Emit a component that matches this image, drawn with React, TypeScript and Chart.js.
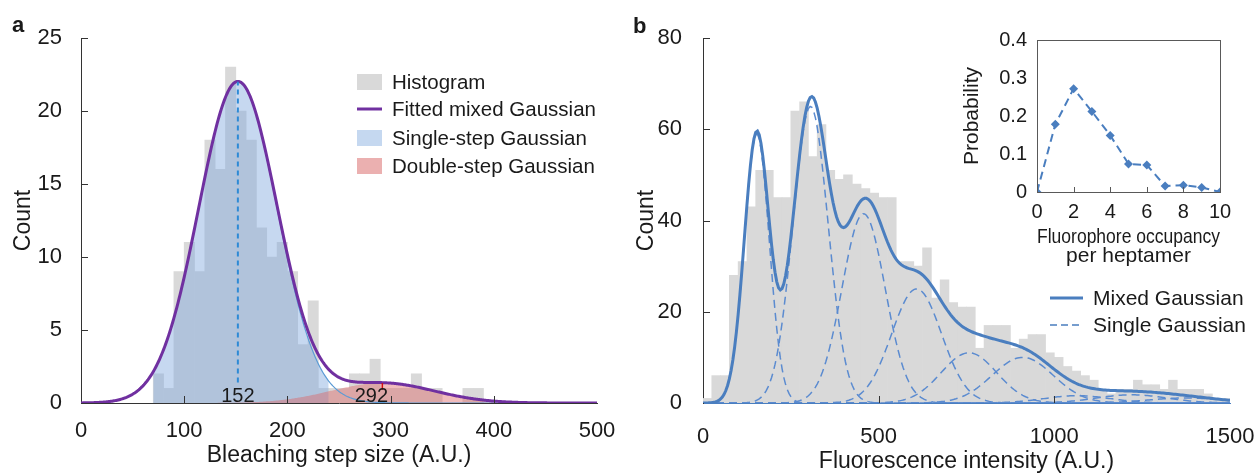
import React, { useEffect, useRef } from "react";
import { Chart, registerables } from "chart.js";
Chart.register(...registerables);

const FONT = "'Liberation Sans', Arial, Helvetica, sans-serif";
const TEXT = "#1a1a1a";
const AXIS = "#333333";

// ---------- Panel a: bleaching step size ----------
const stepBinWidth = 10;
const stepBinStarts = [70, 80, 90, 100, 110, 120, 130, 140, 150, 160, 170, 180, 190, 200, 210, 220, 230, 240, 250, 260, 270, 280, 290, 300, 310, 320, 330, 340, 350, 360, 370, 380];
const stepCounts = [2, 1, 9, 11, 9, 18, 16, 23, 20, 18, 12, 10, 11, 9, 4, 7, 1, 1, 1, 2, 2, 3, 1, 1, 1, 2, 1, 1, 0, 0, 1, 1];
const stepXTicks = [0, 100, 200, 300, 400, 500];
const countTicksA = [0, 5, 10, 15, 20, 25];
// fitted Gaussian parameters
const singleStep = { amp: 22, mean: 152, sigma: 38, from: 70, to: 240 };
const doubleStep = { amp: 1.37, mean: 292, sigma: 50, from: 100, to: 400 };
const legendA = ["Histogram", "Fitted mixed Gaussian", "Single-step Gaussian", "Double-step Gaussian"];

// ---------- Panel b: fluorescence intensity ----------
const intensityBinWidth = 25;
const intensityBinStarts = [0, 25, 50, 75, 100, 125, 150, 175, 200, 225, 250, 275, 300, 325, 350, 375, 400, 425, 450, 475, 500, 525, 550, 575, 600, 625, 650, 675, 700, 725, 750, 775, 800, 825, 850, 875, 900, 925, 950, 975, 1000, 1025, 1050, 1075, 1100, 1125, 1150, 1175, 1200, 1225, 1250, 1275, 1300, 1325, 1350, 1375, 1400, 1425, 1450, 1475];
const intensityCounts = [1, 6, 6, 28, 31, 43, 51, 51, 45, 45, 64, 66, 54, 61, 51, 49, 50, 48, 47, 46, 45, 45, 31, 31, 30, 34, 23, 27, 22, 21, 21, 12, 17, 17, 17, 12, 14, 15, 15, 11, 10, 8, 7, 6, 5, 3, 2, 3, 3, 5, 4, 4, 3, 5, 3, 3, 3, 2, 1, 1];
const intensityXTicks = [0, 500, 1000, 1500];
const countTicksB = [0, 20, 40, 60, 80];
const componentMeans = [153, 306, 457, 608, 757, 910, 1065, 1220, 1375];
const componentAmps = [59, 65, 41.5, 25, 11, 10, 1.6, 1.8, 1.1];
const componentSigmas = [35.5, 50, 61.5, 71, 79, 87, 94, 100, 106];
const legendB = ["Mixed Gaussian", "Single Gaussian"];

// ---------- Inset ----------
const occupancy = [0, 1, 2, 3, 4, 5, 6, 7, 8, 9, 10];
const occupancyProb = [0, 0.178, 0.272, 0.212, 0.149, 0.074, 0.071, 0.016, 0.018, 0.012, 0];
const occTicks = [0, 2, 4, 6, 8, 10];
const probTicks = [0, 0.1, 0.2, 0.3, 0.4];

const BLUE = "#4a7ebf";

function gauss(x: number, a: number, m: number, s: number) {
  return a * Math.exp(-((x - m) * (x - m)) / (2 * s * s));
}
function curve(from: number, to: number, step: number, f: (x: number) => number) {
  const pts: { x: number; y: number }[] = [];
  for (let x = from; x <= to + 1e-9; x += step) pts.push({ x, y: f(x) });
  return pts;
}

function inwardTicks(chart: any, xs: number[], ys: number[], len: number, color: string) {
  const { ctx, chartArea: ca, scales } = chart;
  ctx.save();
  ctx.strokeStyle = color;
  ctx.lineWidth = 1;
  xs.forEach((v) => {
    const px = Math.round(scales.x.getPixelForValue(v)) + 0.5;
    ctx.beginPath();
    ctx.moveTo(px, ca.bottom);
    ctx.lineTo(px, ca.bottom - len);
    ctx.stroke();
  });
  ys.forEach((v) => {
    const py = Math.round(scales.y.getPixelForValue(v)) + 0.5;
    ctx.beginPath();
    ctx.moveTo(ca.left, py);
    ctx.lineTo(ca.left + len, py);
    ctx.stroke();
  });
  ctx.restore();
}

function axisX(min: number, max: number, ticks: number[], title: string, tickPad: number, titlePad: number, height: number, border: string) {
  return {
    type: "linear",
    min,
    max,
    offset: false,
    afterBuildTicks: (s: any) => { s.ticks = ticks.map((v) => ({ value: v })); },
    afterFit: (s: any) => { s.height = height; s.paddingLeft = 0; s.paddingRight = 0; },
    grid: { display: false, drawTicks: false, offset: false },
    border: { display: true, color: border, width: 1 },
    ticks: { font: { family: FONT, size: 22 }, color: TEXT, padding: tickPad, maxRotation: 0, autoSkip: false, callback: (v: any) => String(v) },
    title: { display: true, text: title, font: { family: FONT, size: 23 }, color: TEXT, padding: { top: 0, bottom: titlePad } },
  };
}
function axisY(min: number, max: number, ticks: number[], title: string, tickPad: number, titlePad: number, width: number) {
  return {
    type: "linear",
    min,
    max,
    afterBuildTicks: (s: any) => { s.ticks = ticks.map((v) => ({ value: v })); },
    afterFit: (s: any) => { s.width = width; s.paddingTop = 0; s.paddingBottom = 0; },
    grid: { display: false, drawTicks: false },
    border: { display: true, color: AXIS, width: 1 },
    ticks: { font: { family: FONT, size: 22 }, color: TEXT, padding: tickPad },
    title: { display: true, text: title, font: { family: FONT, size: 23 }, color: TEXT, padding: { top: titlePad, bottom: 0 } },
  };
}

export default function App() {
  const refA = useRef<HTMLCanvasElement>(null);
  const refB = useRef<HTMLCanvasElement>(null);
  const refI = useRef<HTMLCanvasElement>(null);

  useEffect(() => {
    const charts: Chart[] = [];
    const single = (x: number) => gauss(x, singleStep.amp, singleStep.mean, singleStep.sigma);
    const double = (x: number) => gauss(x, doubleStep.amp, doubleStep.mean, doubleStep.sigma);

    // ---------------- Panel a ----------------
    const plugA = {
      id: "plugA",
      afterDraw(chart: any) {
        const { ctx, chartArea: ca, scales } = chart;
        inwardTicks(chart, stepXTicks.slice(1, -1), countTicksA.slice(1), 7, AXIS);
        ctx.save();
        ctx.fillStyle = TEXT;
        ctx.font = `20px ${FONT}`;
        ctx.textAlign = "center";
        ctx.textBaseline = "alphabetic";
        ctx.fillText(String(singleStep.mean), scales.x.getPixelForValue(singleStep.mean), ca.bottom - 1);
        ctx.fillText(String(doubleStep.mean), scales.x.getPixelForValue(doubleStep.mean) - 11, ca.bottom - 1);
        // legend
        const lx = 357, rows = [82, 109, 138, 166];
        const colors = ["#d9d9d9", "#7030a0", "#c5d8f0", "#ebb0b0"];
        rows.forEach((ry, i) => {
          if (i === 1) {
            ctx.strokeStyle = colors[i];
            ctx.lineWidth = 3;
            ctx.beginPath();
            ctx.moveTo(lx, ry);
            ctx.lineTo(lx + 25, ry);
            ctx.stroke();
          } else {
            ctx.fillStyle = colors[i];
            ctx.fillRect(lx, ry - 8, 25, 16);
          }
          ctx.fillStyle = TEXT;
          ctx.font = `20.5px ${FONT}`;
          ctx.textAlign = "left";
          ctx.textBaseline = "middle";
          ctx.fillText(legendA[i], lx + 35, ry + 1);
        });
        ctx.font = `bold 22px ${FONT}`;
        ctx.textBaseline = "alphabetic";
        ctx.fillText("a", 12, 32);
        ctx.restore();
      },
    };
    charts.push(
      new Chart(refA.current!, {
        type: "bar",
        data: {
          datasets: [
            {
              type: "bar",
              data: stepBinStarts.map((s, i) => ({ x: s + stepBinWidth / 2, y: stepCounts[i] })),
              backgroundColor: "#d9d9d9",
              borderWidth: 0,
              categoryPercentage: 1,
              barPercentage: 1,
              order: 10,
            } as any,
            {
              type: "line",
              data: curve(singleStep.from, singleStep.to, 1, single),
              fill: "origin",
              backgroundColor: "rgba(128,168,222,0.45)",
              borderWidth: 0,
              pointRadius: 0,
              order: 6,
            },
            {
              type: "line",
              data: curve(doubleStep.from, doubleStep.to, 1, double),
              fill: "origin",
              backgroundColor: "rgba(222,95,95,0.42)",
              borderWidth: 0,
              pointRadius: 0,
              order: 5,
            },
            {
              type: "line",
              data: curve(0, 500, 1, single),
              borderColor: "#5b9bd5",
              borderWidth: 1.2,
              pointRadius: 0,
              fill: false,
              order: 4,
            },
            {
              type: "line",
              data: curve(0, 500, 1, (x) => single(x) + double(x)),
              borderColor: "#7030a0",
              borderWidth: 3,
              pointRadius: 0,
              fill: false,
              order: 2,
            },
            {
              type: "line",
              data: [{ x: singleStep.mean, y: 1.4 }, { x: singleStep.mean, y: singleStep.amp }],
              borderColor: "#2d8ad6",
              borderDash: [5, 4],
              borderWidth: 2,
              pointRadius: 0,
              fill: false,
              order: 1,
            },
            {
              type: "line",
              data: [{ x: doubleStep.mean, y: 0.9 }, { x: doubleStep.mean, y: doubleStep.amp }],
              borderColor: "#d01010",
              borderWidth: 1.5,
              pointRadius: 0,
              fill: false,
              order: 1,
            },
          ],
        },
        options: {
          animation: false,
          responsive: false,
          events: [],
          layout: { padding: { left: 0, right: 23, top: 38, bottom: 0 }, autoPadding: false },
          plugins: { legend: { display: false }, tooltip: { enabled: false } },
          scales: {
            x: axisX(0, 500, stepXTicks, "Bleaching step size (A.U.)", 15, 4, 70, AXIS) as any,
            y: axisY(0, 25, countTicksA, "Count", 19, 10, 81) as any,
          },
        },
        plugins: [plugA],
      })
    );

    // ---------------- Panel b ----------------
    const comp = (k: number) => (x: number) => gauss(x, componentAmps[k], componentMeans[k], componentSigmas[k]);
    const mixed = (x: number) => componentMeans.reduce((s, _m, k) => s + comp(k)(x), 0);
    const plugB = {
      id: "plugB",
      afterDraw(chart: any) {
        const { ctx } = chart;
        inwardTicks(chart, intensityXTicks.slice(1, -1), countTicksB.slice(1), 7, AXIS);
        ctx.save();
        const lx = 425, rows = [298, 325];
        rows.forEach((ry, i) => {
          ctx.strokeStyle = BLUE;
          ctx.lineWidth = i === 0 ? 3 : 1.5;
          ctx.setLineDash(i === 0 ? [] : [7, 4]);
          ctx.beginPath();
          ctx.moveTo(lx, ry);
          ctx.lineTo(lx + 33, ry);
          ctx.stroke();
          ctx.setLineDash([]);
          ctx.fillStyle = TEXT;
          ctx.font = `21px ${FONT}`;
          ctx.textAlign = "left";
          ctx.textBaseline = "middle";
          ctx.fillText(legendB[i], lx + 43, ry + 1);
        });
        ctx.fillStyle = TEXT;
        ctx.font = `bold 22px ${FONT}`;
        ctx.textBaseline = "alphabetic";
        ctx.fillText("b", 8, 33);
        ctx.restore();
      },
    };
    const compSets = componentMeans.map((_m, k) => ({
      type: "line",
      data: curve(0, 1500, 5, comp(k)),
      borderColor: "#5b8bd0",
      borderWidth: 1.5,
      borderDash: [8, 5],
      pointRadius: 0,
      fill: false,
      order: 3,
    }));
    charts.push(
      new Chart(refB.current!, {
        type: "bar",
        data: {
          datasets: [
            {
              type: "bar",
              data: intensityBinStarts.map((s, i) => ({ x: s + intensityBinWidth / 2, y: intensityCounts[i] })),
              backgroundColor: "#d9d9d9",
              borderWidth: 0,
              categoryPercentage: 1,
              barPercentage: 1,
              order: 10,
            } as any,
            ...(compSets as any[]),
            {
              type: "line",
              data: curve(0, 1500, 5, mixed),
              borderColor: BLUE,
              borderWidth: 3,
              pointRadius: 0,
              fill: false,
              order: 1,
            },
          ],
        },
        options: {
          animation: false,
          responsive: false,
          events: [],
          layout: { padding: { left: 0, right: 27, top: 38, bottom: 0 }, autoPadding: false },
          plugins: { legend: { display: false }, tooltip: { enabled: false } },
          scales: {
            x: axisX(0, 1500, intensityXTicks, "Fluorescence intensity (A.U.)", 21, -2, 70, BLUE) as any,
            y: axisY(0, 80, countTicksB, "Count", 21, 8, 78) as any,
          },
        },
        plugins: [plugB],
      })
    );

    // ---------------- Inset ----------------
    const plugI = {
      id: "plugI",
      afterDraw(chart: any) {
        const { ctx, chartArea: ca } = chart;
        inwardTicks(chart, occTicks.slice(1, -1), [], 5, "#595959");
        ctx.save();
        ctx.strokeStyle = "#595959";
        ctx.lineWidth = 1;
        ctx.strokeRect(Math.round(ca.left) + 0.5, Math.round(ca.top) + 0.5, Math.round(ca.right - ca.left), Math.round(ca.bottom - ca.top));
        ctx.restore();
      },
    };
    const insetX: any = axisX(0, 10, occTicks, "", 8, 4, 78, "#595959");
    insetX.ticks.font = { family: FONT, size: 20 };
    insetX.title = {
      display: true,
      text: ["Fluorophore occupancy", "per heptamer"],
      font: { family: FONT, size: 21, lineHeight: 0.92 },
      color: TEXT,
      padding: { top: 0, bottom: 4 },
    };
    const insetY: any = axisY(0, 0.4, probTicks, "Probability", 10, 0, 77);
    insetY.ticks.font = { family: FONT, size: 20 };
    insetY.title.font = { family: FONT, size: 21 };
    insetY.border.color = "#595959";
    charts.push(
      new Chart(refI.current!, {
        type: "line",
        data: {
          datasets: [
            {
              data: occupancy.map((k, i) => ({ x: k, y: occupancyProb[i] })),
              borderColor: BLUE,
              borderWidth: 2,
              borderDash: [8, 5],
              pointStyle: "rectRot",
              pointRadius: 4.5,
              pointBackgroundColor: BLUE,
              pointBorderWidth: 0,
              fill: false,
            },
          ],
        },
        options: {
          animation: false,
          responsive: false,
          events: [],
          layout: { padding: { left: 0, right: 20, top: 20, bottom: 0 }, autoPadding: false },
          plugins: { legend: { display: false }, tooltip: { enabled: false } },
          scales: { x: insetX, y: insetY },
        },
        plugins: [plugI],
      })
    );

    return () => charts.forEach((c) => c.destroy());
  }, []);

  return (
    <div style={{ position: "fixed", left: 0, top: 0, width: 1257, height: 473, background: "#fff", overflow: "hidden" }}>
      <canvas ref={refA} width={620} height={473} style={{ position: "absolute", left: 0, top: 0, width: 620, height: 473 }} />
      <canvas ref={refB} width={632} height={473} style={{ position: "absolute", left: 625, top: 0, width: 632, height: 473 }} />
      <canvas ref={refI} width={280} height={250} style={{ position: "absolute", left: 960, top: 20, width: 280, height: 250 }} />
    </div>
  );
}
